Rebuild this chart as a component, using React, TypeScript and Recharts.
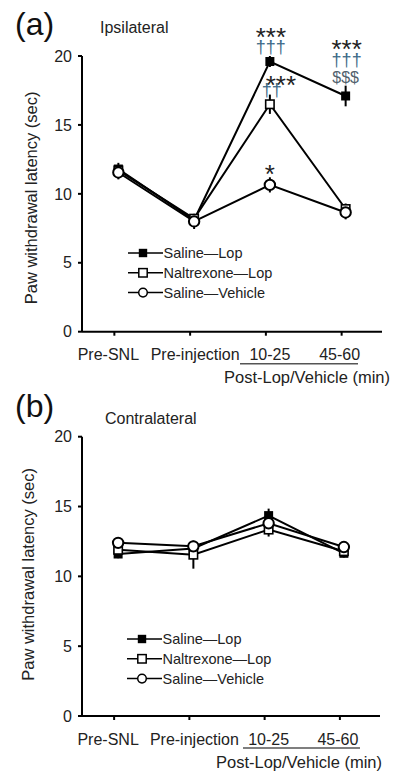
import React from 'react';
import { LineChart, Line, XAxis, YAxis, ErrorBar, Legend, LabelList } from 'recharts';

// ---------- data ----------
const categories = ['Pre-SNL', 'Pre-injection', '10-25', '45-60'];
const yTicks = [0, 5, 10, 15, 20];
const seriesNames = ['Saline\u2014Lop', 'Naltrexone\u2014Lop', 'Saline\u2014Vehicle'];
const seriesOrder = ['sl', 'nl', 'sv'];

// (a) Ipsilateral
const ipsiSalineLop = [11.8, 8.1, 19.6, 17.1];
const ipsiSalineLopErr = [0.45, 0.3, 0.4, 0.75];
const ipsiNaltrexoneLop = [11.7, 8.2, 16.5, 8.9];
const ipsiNaltrexoneLopErr = [0.3, 0.3, 0.7, 0.4];
const ipsiSalineVehicle = [11.55, 8.0, 10.65, 8.65];
const ipsiSalineVehicleErr = [0.5, 0.55, 0.55, 0.5];

const ipsiSalineLopStars = ['', '', '***', '***'];
const ipsiSalineLopDaggers = ['', '', '\u2020\u2020\u2020', '\u2020\u2020\u2020'];
const ipsiSalineLopDollars = ['', '', '', '$$$'];
const ipsiNaltrexoneLopStars = ['', '', '***', ''];
const ipsiNaltrexoneLopDaggers = ['', '', '\u2020\u2020', ''];
const ipsiSalineVehicleStars = ['', '', '*', ''];

// (b) Contralateral
const contraSalineLop = [11.6, 12.0, 14.35, 11.65];
const contraSalineLopErr = [0.3, 0.4, 0.5, 0.3];
const contraNaltrexoneLop = [11.9, 11.55, 13.35, 11.8];
const contraNaltrexoneLopErr = [0.3, 1.0, 0.5, 0.3];
const contraSalineVehicle = [12.4, 12.15, 13.8, 12.1];
const contraSalineVehicleErr = [0.35, 0.4, 0.4, 0.35];

const buildRows = (
  sl: number[], slE: number[], nl: number[], nlE: number[], sv: number[], svE: number[]
) =>
  categories.map((name, i) => ({
    idx: i, name,
    sl: sl[i], slErr: slE[i],
    nl: nl[i], nlErr: nlE[i],
    sv: sv[i], svErr: svE[i],
  }));

const ipsiRows = buildRows(ipsiSalineLop, ipsiSalineLopErr, ipsiNaltrexoneLop, ipsiNaltrexoneLopErr, ipsiSalineVehicle, ipsiSalineVehicleErr);
const contraRows = buildRows(contraSalineLop, contraSalineLopErr, contraNaltrexoneLop, contraNaltrexoneLopErr, contraSalineVehicle, contraSalineVehicleErr);

// ---------- markers ----------
const FilledSquare = ({ cx, cy, s = 9 }: any) =>
  cx == null ? null : <rect x={cx - s / 2} y={cy - s / 2} width={s} height={s} fill="#000" />;
const OpenSquare = ({ cx, cy, s = 8.4, sw = 1.6 }: any) =>
  cx == null ? null : <rect x={cx - s / 2} y={cy - s / 2} width={s} height={s} fill="#fff" stroke="#000" strokeWidth={sw} />;
const OpenCircle = ({ cx, cy, r = 5.2, sw = 2 }: any) =>
  cx == null ? null : <circle cx={cx} cy={cy} r={r} fill="#fff" stroke="#000" strokeWidth={sw} />;

const markerFor: Record<string, any> = { sl: FilledSquare, nl: OpenSquare, sv: OpenCircle };

const dotFn = (Comp: any) => (p: any) => <Comp key={p.key ?? `${p.index}`} cx={p.cx} cy={p.cy} />;

// ---------- ticks & labels ----------
const tickLabelShift = [-10, 1, 0, -6];

const CategoryTick = (props: any) => {
  const { x, y, payload } = props;
  const i = payload.value as number;
  return (
    <g>
      <line x1={x - 4} x2={x - 4} y1={y - 4} y2={y} stroke="#000" strokeWidth={2} />
      <text x={x + tickLabelShift[i]} y={y + 24.5} textAnchor="middle" fontSize={16} fill="#222">
        {categories[i]}
      </text>
    </g>
  );
};

const GroupLabel = (props: any) => {
  const vb = props.viewBox || {};
  const { x, y } = vb;
  const { lineFrom, lineTo, textX } = props;
  return (
    <g>
      <line x1={x + lineFrom} x2={x + lineTo} y1={y + 32} y2={y + 32} stroke="#555" strokeWidth={1.5} />
      <text x={x + textX} y={y + 51.5} textAnchor="middle" fontSize={16.5} fill="#222">
        Post-Lop/Vehicle (min)
      </text>
    </g>
  );
};

const YTitle = (props: any) => {
  const vb = props.viewBox || {};
  const cy = vb.y + vb.height / 2 + props.shift;
  const bx = props.bx;
  return (
    <text x={bx} y={cy} transform={`rotate(-90, ${bx}, ${cy})`} textAnchor="middle" fontSize={16.5} fill="#222">
      Paw withdrawal latency (sec)
    </text>
  );
};

const SigMarks = (p: any) => {
  const i = p.index;
  const cx = p.viewBox?.x ?? p.x;
  const cy = p.viewBox?.y ?? p.y;
  if (i == null || cx == null || cy == null) return null;
  const items: { t: string; kind: string; dx: number }[] = [];
  if (p.dollars && p.dollars[i]) items.push({ t: p.dollars[i], kind: 'dollar', dx: 0 });
  if (p.daggers && p.daggers[i]) items.push({ t: p.daggers[i], kind: 'dagger', dx: p.daggerDx || 0 });
  if (p.stars && p.stars[i]) items.push({ t: p.stars[i], kind: 'star', dx: p.starDx || 0 });
  if (!items.length) return null;
  const start = p.errs[i] * p.pxPerUnit + p.base;
  return (
    <g>
      {items.map((it, k) => {
        const c = cy - start - k * p.gap;
        if (it.kind === 'star')
          return (
            <text key={k} x={cx + it.dx} y={c + 14.6} textAnchor="middle" fontSize={26} fill="#222">
              {it.t}
            </text>
          );
        if (it.kind === 'dagger')
          return (
            <text key={k} x={cx + it.dx} y={c + 5} textAnchor="middle" fontSize={18} fill="#3d6a88">
              {it.t}
            </text>
          );
        return (
          <text key={k} x={cx + it.dx} y={c + 5.5} textAnchor="middle" fontSize={16} fill="#52626e">
            {it.t}
          </text>
        );
      })}
    </g>
  );
};

const LegendBox = (props: any) => {
  const payload = [...(props.payload || [])].sort(
    (a: any, b: any) => seriesOrder.indexOf(a.dataKey) - seriesOrder.indexOf(b.dataKey)
  );
  return (
    <svg width={170} height={62} style={{ display: 'block', overflow: 'visible' }}>
      {payload.map((item: any, k: number) => {
        const cy = 10 + k * 19.8;
        const M = markerFor[item.dataKey as string] || OpenCircle;
        return (
          <g key={k}>
            <line x1={0} x2={35} y1={cy} y2={cy} stroke="#000" strokeWidth={1.5} />
            <M cx={15} cy={cy} s={8.4} r={4.3} sw={1.5} />
            <text x={35.5} y={cy + 5} fontSize={14.5} fill="#222">
              {item.value}
            </text>
          </g>
        );
      })}
    </svg>
  );
};

// ---------- panel ----------
type PanelProps = {
  rows: any[];
  height: number;
  margin: any;
  legendLeft: number;
  legendTop: number;
  groupLabel: { lineFrom: number; lineTo: number; textX: number };
  yTitle: { bx: number; shift: number };
  pxPerUnit: number;
  sig?: boolean;
};

const Panel = ({ rows, height, margin, legendLeft, legendTop, groupLabel, yTitle, pxPerUnit, sig }: PanelProps) => (
  <LineChart width={400} height={height} data={rows} margin={margin}>
    <XAxis
      dataKey="idx"
      type="number"
      domain={[-0.48, 3.48]}
      ticks={[0, 1, 2, 3]}
      allowDataOverflow
      height={55}
      tickSize={4}
      tickMargin={0}
      tickLine={false}
      axisLine={{ stroke: '#000', strokeWidth: 2 }}
      tick={<CategoryTick />}
      label={(p: any) => <GroupLabel {...p} {...groupLabel} />}
    />
    <YAxis
      type="number"
      domain={[0, 20]}
      ticks={yTicks}
      width={82}
      tickSize={4}
      tickMargin={6}
      axisLine={{ stroke: '#000', strokeWidth: 2 }}
      tickLine={{ stroke: '#000', strokeWidth: 2 }}
      tick={{ fontSize: 16, fill: '#222' }}
      label={(p: any) => <YTitle {...p} {...yTitle} />}
    />
    <Legend
      layout="vertical"
      align="center"
      verticalAlign="middle"
      itemSorter={null as any}
      content={<LegendBox />}
      wrapperStyle={{ left: legendLeft, top: legendTop, width: 170, height: 62 }}
    />
    <Line
      dataKey="sl"
      name={seriesNames[0]}
      stroke="#000"
      strokeWidth={2}
      dot={dotFn(FilledSquare)}
      activeDot={false}
      isAnimationActive={false}
    >
      <ErrorBar dataKey="slErr" width={0} strokeWidth={2} stroke="#000" direction="y" />
      {sig && (
        <LabelList
          dataKey="sl"
          content={(p: any) => (
            <SigMarks {...p} stars={ipsiSalineLopStars} daggers={ipsiSalineLopDaggers} dollars={ipsiSalineLopDollars}
              errs={ipsiSalineLopErr} pxPerUnit={pxPerUnit} base={8} gap={17} starDx={1} daggerDx={1} />
          )}
        />
      )}
    </Line>
    <Line
      dataKey="nl"
      name={seriesNames[1]}
      stroke="#000"
      strokeWidth={2}
      dot={dotFn(OpenSquare)}
      activeDot={false}
      isAnimationActive={false}
    >
      <ErrorBar dataKey="nlErr" width={0} strokeWidth={2} stroke="#000" direction="y" />
      {sig && (
        <LabelList
          dataKey="nl"
          content={(p: any) => (
            <SigMarks {...p} stars={ipsiNaltrexoneLopStars} daggers={ipsiNaltrexoneLopDaggers}
              errs={ipsiNaltrexoneLopErr} pxPerUnit={pxPerUnit} base={3.3} gap={12} starDx={11} daggerDx={2} />
          )}
        />
      )}
    </Line>
    <Line
      dataKey="sv"
      name={seriesNames[2]}
      stroke="#000"
      strokeWidth={2}
      dot={dotFn(OpenCircle)}
      activeDot={false}
      isAnimationActive={false}
    >
      <ErrorBar dataKey="svErr" width={0} strokeWidth={2} stroke="#000" direction="y" />
      {sig && (
        <LabelList
          dataKey="sv"
          content={(p: any) => (
            <SigMarks {...p} stars={ipsiSalineVehicleStars} errs={ipsiSalineVehicleErr}
              pxPerUnit={pxPerUnit} base={8.4} gap={15} />
          )}
        />
      )}
    </Line>
  </LineChart>
);

export default function App() {
  return (
    <div
      style={{
        position: 'absolute',
        left: 0,
        top: 0,
        width: 400,
        height: 783,
        background: '#fff',
        fontFamily: '"Liberation Sans", Arial, sans-serif',
        overflow: 'hidden',
      }}
    >
      <div style={{ position: 'absolute', left: 0, top: 0 }}>
        <Panel
          rows={ipsiRows}
          height={391}
          margin={{ top: 56, right: 18, bottom: 4.3, left: 0 }}
          legendLeft={127.7}
          legendTop={243}
          groupLabel={{ lineFrom: 158, lineTo: 276, textX: 225 }}
          yTitle={{ bx: 37, shift: 4 }}
          pxPerUnit={13.8}
          sig
        />
      </div>
      <div style={{ position: 'absolute', left: 0, top: 391 }}>
        <Panel
          rows={contraRows}
          height={392}
          margin={{ top: 45.7, right: 20, bottom: 12, left: 0 }}
          legendLeft={126.7}
          legendTop={237.5}
          groupLabel={{ lineFrom: 161, lineTo: 278, textX: 217 }}
          yTitle={{ bx: 34.5, shift: -2 }}
          pxPerUnit={13.97}
        />
      </div>
      <svg width={400} height={783} style={{ position: 'absolute', left: 0, top: 0, pointerEvents: 'none' }}>
        <text x={15} y={35} fontSize={32} fill="#111">(a)</text>
        <text x={100} y={33.3} fontSize={16} fill="#222">Ipsilateral</text>
        <text x={15} y={416.6} fontSize={32} fill="#111">(b)</text>
        <text x={105} y={424.3} fontSize={16} fill="#222">Contralateral</text>
      </svg>
    </div>
  );
}
